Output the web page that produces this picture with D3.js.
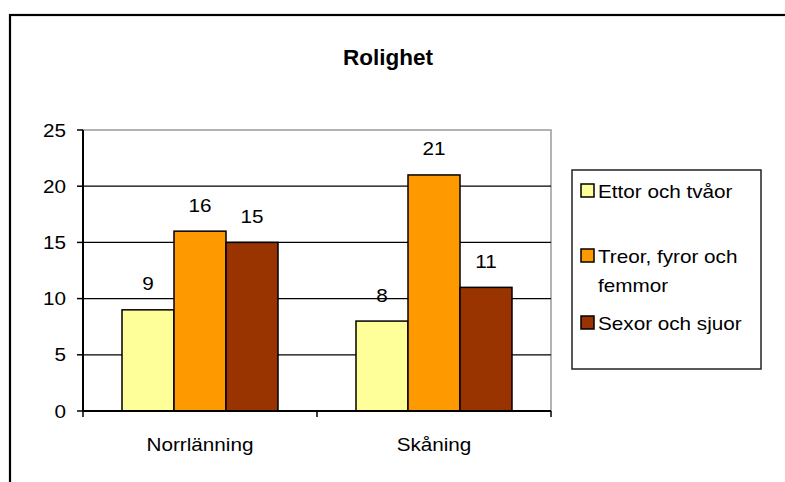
<!DOCTYPE html>
<html>
<head>
<meta charset="utf-8">
<script src="https://cdn.jsdelivr.net/npm/d3@7"></script>
<style>
  html, body { margin: 0; padding: 0; background: #fff; }
  svg { display: block; }
  text { font-family: "Liberation Sans", Arial, sans-serif; fill: #000; }
</style>
</head>
<body>
<svg id="chart" width="785" height="482"></svg>
<script>
// Chart data
const title = "Rolighet";
const categories = ["Norrlänning", "Skåning"];
const seriesNames = ["Ettor och tvåor", "Treor, fyror och femmor", "Sexor och sjuor"];
const ettorOchTvaor = [9, 8];
const treorFyrorOchFemmor = [16, 21];
const sexorOchSjuor = [15, 11];
const yTicks = [0, 5, 10, 15, 20, 25];
const colors = ["#FFFF99", "#FF9900", "#993300"];

const seriesValues = [ettorOchTvaor, treorFyrorOchFemmor, sexorOchSjuor];
const legendLines = [["Ettor och tvåor"], ["Treor, fyror och", "femmor"], ["Sexor och sjuor"]];

const svg = d3.select("#chart");
const stretch = 1.15;   // horizontal text stretch
const fs = 18;

// Outer chart frame
svg.append("rect")
  .attr("x", 10).attr("y", 15).attr("width", 800).attr("height", 500)
  .attr("fill", "#fff").attr("stroke", "#000").attr("stroke-width", 2.2);

const plot = { left: 83, right: 551, top: 130, bottom: 411 };

const x0 = d3.scaleBand().domain(categories).range([plot.left, plot.right]).padding(0);
const x1 = d3.scaleBand().domain(d3.range(seriesNames.length))
  .range([0, x0.bandwidth()]).paddingInner(0).paddingOuter(0.75);
const y = d3.scaleLinear().domain([0, 25]).range([plot.bottom, plot.top]);

// Plot-area border
svg.append("rect")
  .attr("x", plot.left).attr("y", plot.top)
  .attr("width", plot.right - plot.left).attr("height", plot.bottom - plot.top)
  .attr("fill", "none").attr("stroke", "#9a9a9a").attr("stroke-width", 1.5);

// Horizontal gridlines
svg.append("g").selectAll("line")
  .data(yTicks.filter(t => t > 0 && t < 25))
  .join("line")
  .attr("x1", plot.left).attr("x2", plot.right)
  .attr("y1", d => y(d)).attr("y2", d => y(d))
  .attr("stroke", "#000").attr("stroke-width", 1.2);

// Bars
const groups = svg.append("g").selectAll("g")
  .data(categories)
  .join("g")
  .attr("transform", d => `translate(${x0(d)},0)`);

groups.selectAll("rect")
  .data((c, ci) => seriesValues.map((vals, si) => ({ si, v: vals[ci] })))
  .join("rect")
  .attr("x", d => x1(d.si))
  .attr("y", d => y(d.v))
  .attr("width", x1.bandwidth())
  .attr("height", d => y(0) - y(d.v))
  .attr("fill", d => colors[d.si])
  .attr("stroke", "#000").attr("stroke-width", 1.5);

// Value labels
groups.selectAll("text")
  .data((c, ci) => seriesValues.map((vals, si) => ({ si, v: vals[ci] })))
  .join("text")
  .attr("transform", d => `translate(${x1(d.si) + x1.bandwidth() / 2},${y(d.v) - 19.5}) scale(${stretch},1)`)
  .attr("text-anchor", "middle")
  .style("font-size", fs + "px")
  .text(d => d.v);

// Y axis
const yAxis = svg.append("g");
yAxis.append("line")
  .attr("x1", plot.left).attr("x2", plot.left)
  .attr("y1", plot.top).attr("y2", plot.bottom)
  .attr("stroke", "#000").attr("stroke-width", 2);
yAxis.selectAll("line.tick")
  .data(yTicks).join("line").attr("class", "tick")
  .attr("x1", plot.left - 6).attr("x2", plot.left)
  .attr("y1", d => y(d)).attr("y2", d => y(d))
  .attr("stroke", "#000").attr("stroke-width", 1.5);
yAxis.selectAll("text")
  .data(yTicks).join("text")
  .attr("transform", d => `translate(66,${y(d) + 6.5}) scale(${stretch},1)`)
  .attr("text-anchor", "end")
  .style("font-size", fs + "px")
  .text(d => d);

// X axis
const xAxis = svg.append("g");
xAxis.append("line")
  .attr("x1", plot.left).attr("x2", plot.right)
  .attr("y1", plot.bottom).attr("y2", plot.bottom)
  .attr("stroke", "#000").attr("stroke-width", 2);
const xTickPos = [plot.left].concat(categories.map(c => x0(c) + x0.bandwidth()));
xAxis.selectAll("line.tick")
  .data(xTickPos).join("line").attr("class", "tick")
  .attr("x1", d => d).attr("x2", d => d)
  .attr("y1", plot.bottom).attr("y2", plot.bottom + 6)
  .attr("stroke", "#000").attr("stroke-width", 1.5);
xAxis.selectAll("text")
  .data(categories).join("text")
  .attr("transform", d => `translate(${x0(d) + x0.bandwidth() / 2},451) scale(${stretch},1)`)
  .attr("text-anchor", "middle")
  .style("font-size", fs + "px")
  .text(d => d);

// Title
svg.append("text")
  .attr("x", 388).attr("y", 65)
  .attr("text-anchor", "middle")
  .style("font-size", "22.5px").style("font-weight", "bold")
  .text(title);

// Legend
const legend = svg.append("g");
legend.append("rect")
  .attr("x", 572).attr("y", 170).attr("width", 189).attr("height", 199)
  .attr("fill", "#fff").attr("stroke", "#222").attr("stroke-width", 1.5);
const legendBaselines = [198, 263, 330];
const item = legend.selectAll("g.item")
  .data(seriesNames).join("g").attr("class", "item");
item.append("rect")
  .attr("x", 581).attr("y", (d, i) => legendBaselines[i] - 14)
  .attr("width", 13).attr("height", 13)
  .attr("fill", (d, i) => colors[i])
  .attr("stroke", "#000").attr("stroke-width", 1.5);
item.each(function (d, i) {
  d3.select(this).selectAll("text")
    .data(legendLines[i]).join("text")
    .attr("transform", (line, li) => `translate(598,${legendBaselines[i] + li * 29}) scale(${stretch},1)`)
    .style("font-size", fs + "px")
    .text(line => line);
});
</script>
</body>
</html>
